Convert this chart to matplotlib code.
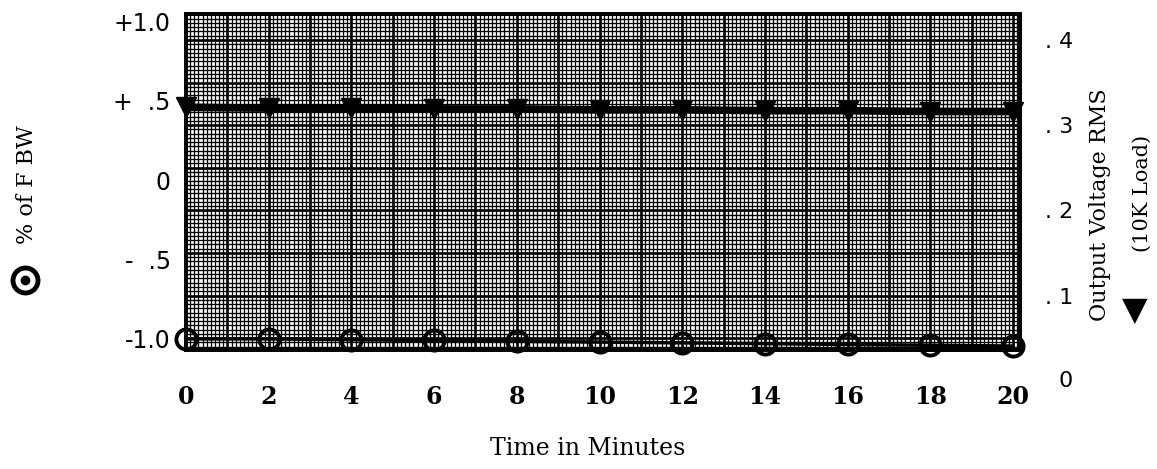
import numpy as np
import matplotlib.pyplot as plt

# ----- data -----
minutes = [0, 2, 4, 6, 8, 10, 12, 14, 16, 18, 20]
fbw_pct = [-1.00, -1.00, -1.005, -1.01, -1.015, -1.02, -1.025, -1.03, -1.035, -1.04, -1.045]
vout_rms = [0.321, 0.320, 0.320, 0.319, 0.319, 0.318, 0.318, 0.317, 0.317, 0.316, 0.316]

left_ticks = [1.0, 0.5, 0.0, -0.5, -1.0]
left_labels = ['+1.0', '+  .5', '0', '-  .5', '-1.0']
right_ticks = [0.4, 0.3, 0.2, 0.1]
right_labels = ['. 4', '. 3', '. 2', '. 1']

fig = plt.figure(figsize=(11.57, 4.69), dpi=100)
ax = fig.add_axes([0.1608, 0.2537, 0.7208, 0.7164])
ax2 = ax.twinx()

XMAX = 20.17
ax.set_xlim(0, XMAX)
ax.set_ylim(-1.07, 1.045)
ax2.set_ylim(0.036, 0.4305)

# graph paper, drawn on the back axes
for x in np.arange(0, XMAX, 0.1):
    major = abs(x - round(x)) < 1e-6
    ax2.axvline(x, color='black', lw=1.9 if major else 0.95, zorder=1)
for y in np.arange(0.0, 0.44, 0.005):
    if y < 0.036 or y > 0.4305:
        continue
    major = abs(y / 0.05 - round(y / 0.05)) < 1e-6
    ax2.axhline(y, color='black', lw=1.9 if major else 0.95, zorder=1)

# output voltage (right axis)
ax2.plot(minutes, vout_rms, color='black', lw=5.5, marker='v', ms=14,
         mfc='black', mec='black', zorder=3, clip_on=False)

# % of FBW (left axis), front axes with transparent patch
ax.set_zorder(ax2.get_zorder() + 1)
ax.patch.set_visible(False)
ax.plot(minutes, fbw_pct, color='black', lw=2.5, marker='o', ms=14.5,
        mfc='none', mec='black', mew=2.8, zorder=3, clip_on=False)

for a in (ax, ax2):
    for s in a.spines.values():
        s.set_linewidth(2.8)
        s.set_color('black')

ax.set_xticks(minutes)
ax.set_xticklabels([str(m) for m in minutes], family='DejaVu Serif',
                   fontweight='bold', fontsize=17)
ax.tick_params(axis='x', length=0, pad=25)
ax.set_yticks(left_ticks)
ax.set_yticklabels(left_labels, family='DejaVu Sans', fontsize=17)
ax.tick_params(axis='y', length=0, pad=11)

ax2.set_yticks(right_ticks)
ax2.set_yticklabels(right_labels, family='DejaVu Sans', fontsize=16)
ax2.tick_params(axis='y', length=0, pad=18)
ax2.text(1.046, 0.0, '0', transform=ax2.get_yaxis_transform(), clip_on=False,
         ha='left', va='center', fontsize=16, family='DejaVu Sans')

fig.text(0.508, 0.043, 'Time in Minutes', ha='center', va='center',
         family='DejaVu Serif', fontsize=17)
fig.text(0.023, 0.606, '% of F BW', rotation=90, ha='center', va='center',
         family='DejaVu Serif', fontsize=16)
fig.text(0.951, 0.563, 'Output Voltage RMS', rotation=90, ha='center', va='center',
         family='DejaVu Serif', fontsize=16)
fig.text(0.987, 0.588, '(10K Load)', rotation=90, ha='center', va='center',
         family='DejaVu Serif', fontsize=15)
fig.text(0.981, 0.339, '\u25bc', ha='center', va='center',
         family='DejaVu Sans', fontsize=24)

# circle symbol beside the left label
ax.plot([0.022], [0.403], transform=fig.transFigure, marker='o', ms=18,
        mfc='white', mec='black', mew=3.5, clip_on=False)
ax.plot([0.022], [0.403], transform=fig.transFigure, marker='o', ms=6,
        mfc='black', mec='black', clip_on=False)

fig.savefig('out.png', dpi=100)
